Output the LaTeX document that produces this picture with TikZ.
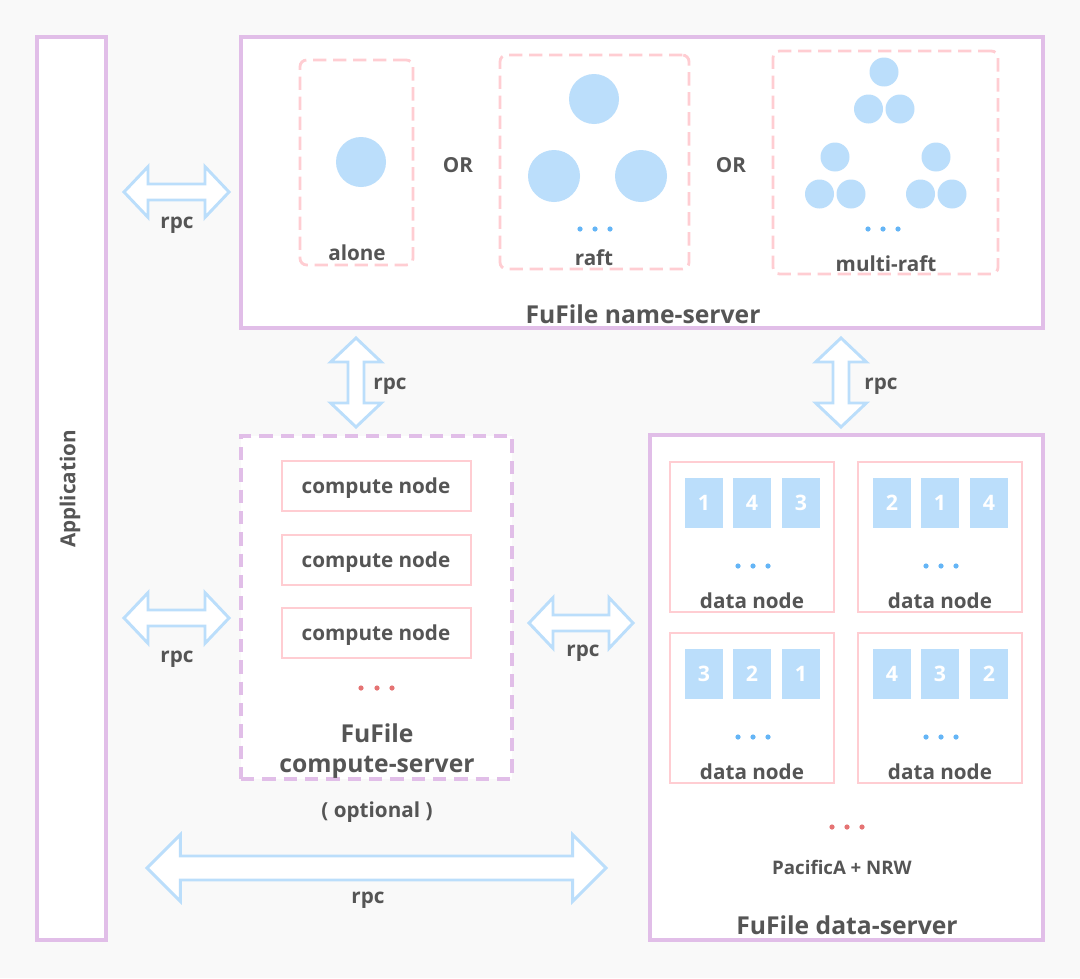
\documentclass[tikz,border=0pt]{standalone}
\usepackage{fontspec}
\setmainfont{Open Sans}
\usepackage{tikz}
\usetikzlibrary{calc,fit}
\definecolor{FuPurple}{RGB}{225,190,232}
\definecolor{FuPink}{RGB}{255,205,210}
\definecolor{FuBlue}{RGB}{187,222,251}
\definecolor{FuDotBlue}{RGB}{100,181,246}
\definecolor{FuDotRed}{RGB}{229,115,115}
\definecolor{FuText}{RGB}{85,85,85}
\definecolor{FuBack}{RGB}{249,249,249}
% fat double arrow: from, to, head length, head half width, shaft half width
\newcommand\rpcarrow[5]{%
  \draw[fatarrow] (#1)
    -- ($(#1)!#3!(#2)!#4!90:(#2)$) -- ($(#1)!#3!(#2)!#5!90:(#2)$)
    -- ($(#2)!#3!(#1)!#5!-90:(#1)$) -- ($(#2)!#3!(#1)!#4!-90:(#1)$)
    -- (#2)
    -- ($(#2)!#3!(#1)!#4!90:(#1)$) -- ($(#2)!#3!(#1)!#5!90:(#1)$)
    -- ($(#1)!#3!(#2)!#5!-90:(#2)$) -- ($(#1)!#3!(#2)!#4!-90:(#2)$)
    -- cycle;}

\begin{document}
\begin{tikzpicture}[x=0.75pt,y=-0.75pt,text=FuText,
  srv/.style={draw=FuPurple,line width=2.3pt,fill=white,inner sep=0pt},
  grpbox/.style={draw=FuPink,line width=2.1pt,dash pattern=on 10pt off 5pt,rounded corners=5pt,inner sep=0pt},
  nodebox/.style={draw=FuPink,line width=2.1pt,fill=white,inner sep=0pt},
  rep/.style={fill=FuBlue,text=white,minimum width=29pt,minimum height=37.5pt,inner sep=0pt,font=\bfseries\fontsize{16}{18}\selectfont},
  lbl/.style={font=\bfseries\fontsize{15.5}{19}\selectfont,inner sep=0pt,yshift=-1.5pt},
  small/.style={font=\bfseries\fontsize{14}{17}\selectfont,inner sep=0pt},
  ttl/.style={font=\bfseries\fontsize{18.5}{23}\selectfont,inner sep=0pt,align=center},
  fatarrow/.style={draw=FuBlue,line width=2.2pt,fill=white,line join=miter},
  replica/.style={fill=FuBlue},
  bdot/.style={fill=FuDotBlue},
  rdot/.style={fill=FuDotRed}]
\fill[FuBack] (0,0) rectangle (1080,978);
\useasboundingbox (0,0) rectangle (1080,978);

% application
\node[srv,fit={(37,37)(106,940)}] (app) {};
\node[lbl,rotate=90,yshift=1.5pt] (apptxt) at (72,487) {Application};

% name-server
\node[srv,fit={(241,37)(1043,328)}] (ns) {};
\node[ttl] (nsttl) at (643,314) {FuFile name-server};
\node[grpbox,fit={(300,60)(413,265)}] (alone) {};
\fill[replica] (361,162) circle (25);
\node[lbl] (alonetxt) at (357,251) {alone};
\node[lbl] (or1) at (458,163) {OR};
\node[grpbox,fit={(500,55)(689,269)}] (raft) {};
\foreach \x/\y/\r in {594/99/25,554/176/26,641/176/26}
  \fill[replica] (\x,\y) circle (\r);
\foreach \x in {580,595,610} \fill[bdot] (\x,229) circle (2.6);
\node[lbl] (rafttxt) at (594,256) {raft};
\node[lbl] (or2) at (731,163) {OR};
\node[grpbox,fit={(773,51)(998,274)}] (mraft) {};
\foreach \x/\y in {884/72,835/157,936/157} {
  \fill[replica] (\x,\y) circle (14.5);
  \fill[replica] (\x-15.5,\y+37) circle (14.5);
  \fill[replica] (\x+16,\y+37) circle (14.5);
}
\foreach \x in {868,883,898} \fill[bdot] (\x,229) circle (2.6);
\node[lbl] (mrafttxt) at (886,262) {multi-raft};

% compute-server
\node[srv,dash pattern=on 10pt off 6pt,fit={(241,436)(512,779)}] (cs) {};
\foreach \nm/\y in {cn1/486,cn2/560,cn3/633} {
  \node[nodebox,fit={(282,\y-25)(471,\y+25)}] (\nm) {};
  \node[lbl] (\nm txt) at (376,\y) {compute node};
}
\foreach \x in {361,377,392} \fill[rdot] (\x,688) circle (2.6);
\node[ttl] (csttl) at (377,751) {FuFile\\compute-server};
\node[lbl] (opt) at (377,810) {( optional )};

% data-server
\node[srv,fit={(650,435)(1043,940)}] (ds) {};
\node[ttl] (dsttl) at (847,925) {FuFile data-server};
\foreach \nm/\cx/\cy/\a/\b/\c in {dn1/752/537/1/4/3,dn2/940/537/2/1/4,dn3/752/708/3/2/1,dn4/940/708/4/3/2} {
  \node[nodebox,fit={(\cx-82,\cy-75)(\cx+82,\cy+75)}] (\nm) {};
  \node[rep] (\nm a) at (\cx-48,\cy-34) {\a};
  \node[rep] (\nm b) at (\cx,\cy-34) {\b};
  \node[rep] (\nm c) at (\cx+49,\cy-34) {\c};
  \foreach \d in {-14,1,16} \fill[bdot] (\cx+\d,\cy+29) circle (2.6);
  \node[lbl] (\nm txt) at (\cx,\cy+62) {data node};
}
\foreach \x in {832,847,862} \fill[rdot] (\x,827) circle (2.6);
\node[small] (proto) at (842,867) {PacificA + NRW};

% rpc arrows
\coordinate (a1) at (124,192);  \coordinate (b1) at (229,192);
\coordinate (a2) at (124,618);  \coordinate (b2) at (229,618);
\coordinate (a3) at (529,623);  \coordinate (b3) at (633,623);
\coordinate (a4) at (147,868);  \coordinate (b4) at (606,868);
\coordinate (a5) at (356,338);  \coordinate (b5) at (356,427);
\coordinate (a6) at (841,338);  \coordinate (b6) at (841,427);
\foreach \i in {1,2,3,5,6} \rpcarrow{a\i}{b\i}{18pt}{19pt}{6pt};
\rpcarrow{a4}{b4}{25pt}{25pt}{9pt}
\node[lbl] (rpc1) at (177,223) {rpc};
\node[lbl] (rpc2) at (177,657) {rpc};
\node[lbl] (rpc3) at (583,651) {rpc};
\node[lbl] (rpc4) at (368,898) {rpc};
\node[lbl] (rpc5) at (390,384) {rpc};
\node[lbl] (rpc6) at (881,384) {rpc};
\end{tikzpicture}
\end{document}
